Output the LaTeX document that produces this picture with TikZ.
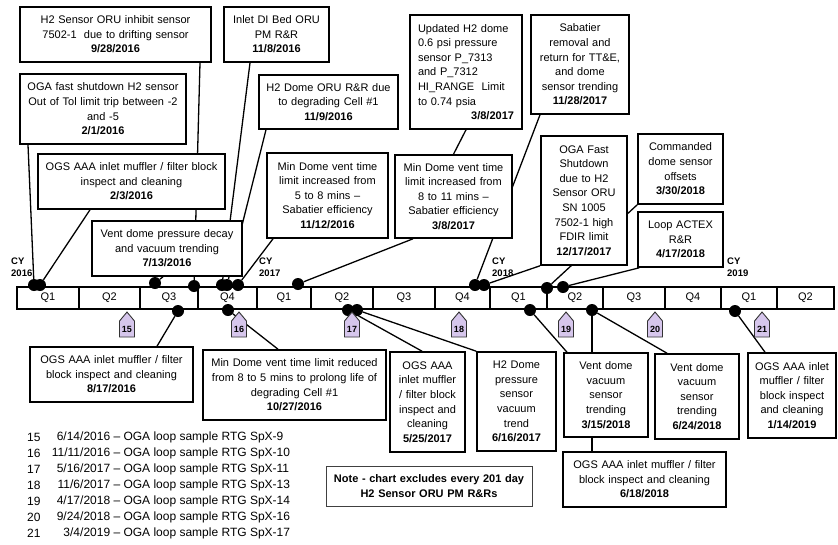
\documentclass[tikz,border=0pt]{standalone}
\usepackage{fontspec}
\setmainfont{Liberation Sans}
\usepackage{tikz}
\usetikzlibrary{backgrounds}
\definecolor{loopfill}{RGB}{214,198,236}
\newcommand{\evfont}{\fontsize{11}{14.6}\selectfont}
\newcommand{\keyfont}{\fontsize{12}{14}\selectfont}
\tikzstyle{event} = [rectangle, draw=black, line width=1.6pt, fill=white, align=center, inner sep=2pt, font=\evfont]
\tikzstyle{notebox} = [rectangle, draw=black!75, line width=0.8pt, fill=white, align=center, inner sep=2pt, font=\evfont\bfseries]
\tikzstyle{qcell} = [rectangle, draw=black, line width=1.4pt, fill=white, minimum height=22pt, inner sep=0pt, font=\evfont]
\tikzstyle{evdot} = [circle, fill=black, inner sep=0pt, minimum size=12pt]
\tikzstyle{conn} = [line width=1.3pt]
\tikzstyle{loopflag} = [fill=loopfill, draw=black!80, line width=0.9pt]
\tikzstyle{loopnum} = [inner sep=0pt, font=\fontsize{9}{10}\selectfont\bfseries]
\tikzstyle{cylabel} = [anchor=west, align=left, inner sep=0pt, font=\fontsize{9.5}{12}\selectfont\bfseries]
\tikzstyle{keytext} = [anchor=west, inner sep=0pt, font=\keyfont]

\begin{document}
\begin{tikzpicture}[x=1pt, y=-1pt]
\useasboundingbox (0,0) rectangle (838,544);

% quarters
\foreach \qa/\qb/\ql [count=\i] in {17/79/Q1, 79/140/Q2, 140/198/Q3, 198/257/Q4, 257/311/Q1, 311/373/Q2, 373/435/Q3, 435/490/Q4, 490/547/Q1, 547/603/Q2, 603/665/Q3, 665/721/Q4, 721/777/Q1, 777/834/Q2}
  \node (q\i) [qcell, minimum width={(\qb-\qa)*1pt}] at ({(\qa+\qb)/2},298) {\ql};

\node (cy16) [cylabel] at (11,267) {CY\\2016};
\node (cy17) [cylabel] at (259,267) {CY\\2017};
\node (cy18) [cylabel] at (492,267) {CY\\2018};
\node (cy19) [cylabel] at (727,267) {CY\\2019};

% events above the line
\node (e0928) [event, text width=187pt, minimum height=55pt] at (115.5,34.5) {H2 Sensor ORU inhibit sensor\\7502-1\ \ due to drifting sensor\\\textbf{9/28/2016}};
\node (e0201) [event, text width=162pt, minimum height=70pt] at (103,109) {OGA fast shutdown H2 sensor\\Out of Tol limit trip between -2\\and -5\\\textbf{2/1/2016}};
\node (e0203) [event, text width=183pt, minimum height=55pt] at (131.5,181.5) {OGS AAA inlet muffler / filter block\\inspect and cleaning\\\textbf{2/3/2016}};
\node (e0713) [event, text width=146pt, minimum height=55pt] at (167,248.5) {Vent dome pressure decay\\and vacuum trending\\\textbf{7/13/2016}};
\node (e1108) [event, text width=101pt, minimum height=55pt] at (276.5,34.5) {Inlet DI Bed ORU\\PM R\&R\\\textbf{11/8/2016}};
\node (e1109) [event, text width=135pt, minimum height=54pt] at (328.5,102) {H2 Dome ORU R\&R due\\to degrading Cell \#1\\\textbf{11/9/2016}};
\node (e1112) [event, text width=117pt, minimum height=85pt] at (327.5,195.5) {Min Dome vent time\\limit increased from\\5 to 8 mins \textendash\\Sabatier efficiency\\\textbf{11/12/2016}};
\node (e0308a) [event, align=left, inner xsep=8pt, text width=96pt, minimum height=114pt] at (466,72) {Updated H2 dome\\0.6 psi pressure\\sensor P\_7313\\and P\_7312\\HI\_RANGE\ \ Limit\\to 0.74 psia\\\hspace*{\fill}\textbf{3/8/2017}\hspace*{\fill}};
\node (e0308b) [event, text width=113pt, minimum height=83pt] at (453.5,196.5) {Min Dome vent time\\limit increased from\\8 to 11 mins \textendash\\Sabatier efficiency\\\textbf{3/8/2017}};
\node (e1128) [event, text width=94pt, minimum height=99pt] at (580,64.5) {Sabatier\\removal and\\return for TT\&E,\\and dome\\sensor trending\\\textbf{11/28/2017}};
\node (e1217) [event, text width=82pt, minimum height=129pt] at (584,200.5) {OGA Fast\\Shutdown\\due to H2\\Sensor ORU\\SN 1005\\7502-1 high\\FDIR limit\\\textbf{12/17/2017}};
\node (e0330) [event, text width=81pt, minimum height=70pt] at (680.5,169) {Commanded\\dome sensor\\offsets\\\textbf{3/30/2018}};
\node (e0417) [event, text width=81pt, minimum height=55pt] at (680.5,239.5) {Loop ACTEX\\R\&R\\\textbf{4/17/2018}};

% events below the line
\node (e0817) [event, text width=159pt, minimum height=55pt] at (111.5,374.5) {OGS AAA inlet muffler / filter\\block inspect and cleaning\\\textbf{8/17/2016}};
\node (e1027) [event, text width=179pt, minimum height=70pt] at (294.5,385) {Min Dome vent time limit reduced\\from 8 to 5 mins to prolong life of\\degrading Cell \#1\\\textbf{10/27/2016}};
\node (e0525) [event, text width=71pt, minimum height=100pt] at (427.5,402) {OGS AAA\\inlet muffler\\/ filter block\\inspect and\\cleaning\\\textbf{5/25/2017}};
\node (e0616) [event, text width=75pt, minimum height=99pt] at (516.5,401.5) {H2 Dome\\pressure\\sensor\\vacuum\\trend\\\textbf{6/16/2017}};
\node (e0315) [event, text width=80pt, minimum height=84pt] at (606,395) {Vent dome\\vacuum\\sensor\\trending\\\textbf{3/15/2018}};
\node (e0624) [event, text width=80pt, minimum height=85pt] at (697,396.5) {Vent dome\\vacuum\\sensor\\trending\\\textbf{6/24/2018}};
\node (e0114) [event, text width=84pt, minimum height=85pt] at (792,395.5) {OGS AAA inlet\\muffler / filter\\block inspect\\and cleaning\\\textbf{1/14/2019}};
\node (e0618) [event, text width=159pt, minimum height=55pt] at (644.5,479.5) {OGS AAA inlet muffler / filter\\block inspect and cleaning\\\textbf{6/18/2018}};
\node (note) [notebox, text width=202pt, minimum height=40pt] at (429,486) {Note - chart excludes every 201 day\\H2 Sensor ORU PM R\&Rs};

% dots on the line
\node (tA) [evdot] at (34,285) {};
\node (tB) [evdot] at (40,285) {};
\node (tC) [evdot] at (155,283) {};
\node (tD) [evdot] at (194,286) {};
\node (tE) [evdot] at (222,285) {};
\node (tF) [evdot] at (227,285) {};
\node (tG) [evdot] at (238,285) {};
\node (tH) [evdot] at (298,284) {};
\node (tI) [evdot] at (475,285) {};
\node (tJ) [evdot] at (484,285) {};
\node (tK) [evdot] at (547,288) {};
\node (tL) [evdot] at (563,287) {};
\node (bA) [evdot] at (178,311) {};
\node (bB) [evdot] at (228,310) {};
\node (bC) [evdot] at (348,310) {};
\node (bD) [evdot] at (357,310) {};
\node (bE) [evdot] at (530,310) {};
\node (bF) [evdot] at (592,310) {};
\node (bG) [evdot] at (735,311) {};

\begin{pgfonlayer}{background}
\draw [conn] ([xshift=-75pt]e0201.south) -- (tA);
\draw [conn] ([xshift=-41.5pt]e0203.south) -- (tB);
\draw [conn] ([xshift=-4pt]e0713.south) -- (tC);
\draw [conn] ([xshift=84.5pt]e0928.south) -- (tD);
\draw [conn] ([xshift=-26.5pt]e1108.south) -- (tE);
\draw [conn] ([xshift=-62.5pt]e1109.south) -- (tF);
\draw [conn] ([xshift=-54.5pt]e1112.south) -- (tG);
\draw [conn] (e0308a.south) -- (e0308b.north);
\draw [conn] ([xshift=-40.5pt]e0308b.south) -- (tH);
\draw [conn] ([xshift=-40pt]e1128.south) -- (tI);
\draw [conn] ([xshift=-44pt]e1217.south) -- (tJ);
\draw [conn] (e0330.south west) -- (tK);
\draw [conn] ([xshift=2pt]e0417.south west) -- (tL);
\draw [conn] (bA) -- ([xshift=45.5pt]e0817.north);
\draw [conn] (bB) -- ([xshift=-16.5pt]e1027.north);
\draw [conn] (bC) -- ([xshift=-5.5pt]e0525.north);
\draw [conn] (bD) -- (e0616.north west);
\draw [conn] (bE) -- ([xshift=-39pt]e0315.north);
\draw [conn] (bF) -- ([xshift=-52.5pt]e0618.north);
\draw [conn] (bF) -- ([xshift=-30pt]e0624.north);
\draw [conn] (bG) -- ([xshift=-27pt]e0114.north);
\end{pgfonlayer}

% loop samples
\foreach \nr/\mx in {15/127, 16/239, 17/352, 18/459, 19/566, 20/655, 21/762} {
  \filldraw [loopflag] (\mx-7.5,337) -- ++(15,0) -- ++(0,-16) -- ++(-7.5,-9) -- ++(-7.5,9) -- cycle;
  \node (m\nr) [loopnum] at (\mx,329.5) {\nr};
}

\foreach \nr/\mm/\dd/\yy/\spx [count=\i from 0] in {15/6/14/2016/9, 16/11/11/2016/10, 17/5/16/2017/11, 18/11/6/2017/13, 19/4/17/2018/14, 20/9/24/2018/16, 21/3/4/2019/17} {
  \node (k\nr) [keytext] at (27,{437+16*\i}) {\nr};
  \node (kt\nr) [keytext] at (40,{437+16*\i}) {\makebox[70pt][r]{\mm/\dd/\yy}\ \textendash\ OGA loop sample RTG SpX-\spx};
}
\end{tikzpicture}
\end{document}
